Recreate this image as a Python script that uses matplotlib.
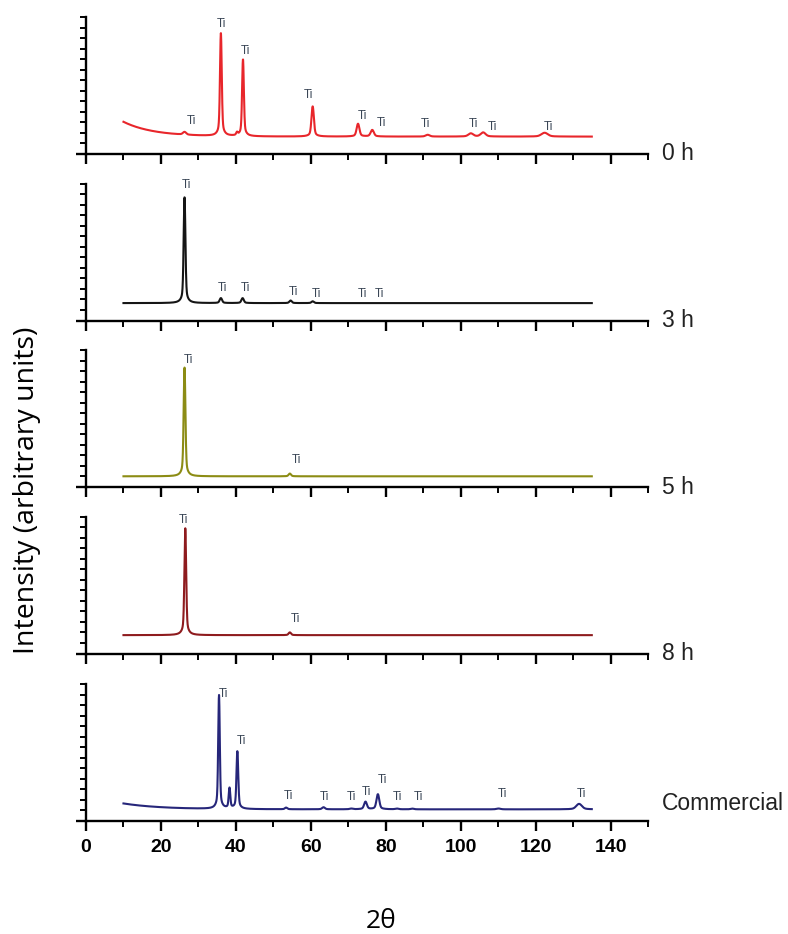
import numpy as np
import matplotlib.pyplot as plt
from matplotlib.ticker import MultipleLocator, FixedLocator

# sample names and line colours
samples = ['0 h', '3 h', '5 h', '8 h', 'Commercial']
colors = ['#e8262b', '#151515', '#8c8c14', '#8e1b1e', '#26267a']

# flat background level and the decaying part at low angle (axes fraction)
base = [0.127, 0.127, 0.078, 0.134, 0.085]
bg_amp = [0.108, 0.0, 0.0, 0.0, 0.043]
bg_tau = [8.0, 1.0, 1.0, 1.0, 10.0]

# peak positions (2theta), heights above background, widths
peak_pos = [
    [26.3, 36.0, 40.3, 41.9, 60.5, 72.6, 76.4, 91.2, 102.7, 106.0, 122.4],
    [26.3, 36.0, 41.8, 54.6, 60.5],
    [26.3, 54.4],
    [26.5, 54.4],
    [35.5, 38.3, 40.4, 53.4, 63.4, 70.8, 74.6, 77.9, 83.0, 87.1, 110.1, 131.6],
]
peak_h = [
    [0.02, 0.75, 0.02, 0.56, 0.22, 0.093, 0.048, 0.013, 0.023, 0.03, 0.028],
    [0.773, 0.036, 0.036, 0.019, 0.013],
    [0.795, 0.02],
    [0.78, 0.02],
    [0.83, 0.147, 0.42, 0.012, 0.015, 0.005, 0.055, 0.11, 0.005, 0.005, 0.006, 0.04],
]
peak_w = [
    [0.4, 0.22, 0.2, 0.22, 0.3, 0.35, 0.4, 0.5, 0.6, 0.6, 0.8],
    [0.22, 0.3, 0.3, 0.3, 0.3],
    [0.22, 0.3],
    [0.22, 0.3],
    [0.2, 0.2, 0.22, 0.3, 0.35, 0.4, 0.35, 0.35, 0.4, 0.4, 0.5, 0.7],
]

# "Ti" annotation positions (2theta, axes fraction)
ti_x = [
    [28.1, 36.2, 42.6, 59.5, 73.8, 78.9, 90.7, 103.5, 108.6, 123.4],
    [26.8, 36.5, 42.6, 55.4, 61.6, 73.8, 78.4],
    [27.4, 56.1],
    [26.0, 55.9],
    [36.8, 41.4, 54.1, 63.6, 70.8, 74.8, 79.2, 83.0, 88.7, 111.1, 132.3],
]
ti_y = [
    [0.24, 0.95, 0.75, 0.43, 0.28, 0.225, 0.22, 0.22, 0.20, 0.20],
    [0.99, 0.24, 0.237, 0.205, 0.19, 0.195, 0.195],
    [0.93, 0.195],
    [0.975, 0.25],
    [0.93, 0.586, 0.18, 0.177, 0.177, 0.213, 0.30, 0.177, 0.177, 0.194, 0.194],
]

x_ticks = [0, 20, 40, 60, 80, 100, 120, 140]

two_theta = np.linspace(10, 135, 4000)

fig = plt.figure(figsize=(7.88, 9.34), dpi=100)
W, H = 788, 934
left, right = 86, 648
axis_y = [154, 320.5, 487, 653.5, 821]
panel_h = 137

for i, name in enumerate(samples):
    ax = fig.add_axes([left / W, 1 - axis_y[i] / H, (right - left) / W, panel_h / H])
    y = base[i] + bg_amp[i] * np.exp(-(two_theta - 10) / bg_tau[i])
    for p, h, w in zip(peak_pos[i], peak_h[i], peak_w[i]):
        g = np.exp(-0.5 * ((two_theta - p) / w) ** 2)
        l = 1 / (1 + ((two_theta - p) / (2.5 * w)) ** 2)
        y = y + h * (0.8 * g + 0.2 * l)
    ax.plot(two_theta, y, color=colors[i], lw=1.5)

    for tx, ty in zip(ti_x[i], ti_y[i]):
        ax.text(tx, ty, 'Ti', fontsize=8.5, color='#3a4656', ha='center', va='center',
                family='Liberation Sans')

    ax.text(1.025, 0.13 if name == 'Commercial' else 0.0, name, transform=ax.transAxes,
            fontsize=16.5, va='center', ha='left', family='Liberation Sans', color='#222222')

    ax.set_xlim(0, 150)
    ax.set_ylim(0, 1)
    for s in ['top', 'right']:
        ax.spines[s].set_visible(False)
    for s in ['left', 'bottom']:
        ax.spines[s].set_linewidth(1.7)
    ax.xaxis.set_major_locator(FixedLocator(x_ticks))
    ax.xaxis.set_minor_locator(MultipleLocator(10))
    ax.yaxis.set_major_locator(FixedLocator([0]))
    ax.yaxis.set_minor_locator(FixedLocator(np.linspace(0, 1, 14)[1:]))
    ax.tick_params(axis='both', which='major', direction='out', length=7.5, width=1.7, pad=5.5)
    ax.tick_params(axis='both', which='minor', direction='out', length=4.5, width=1.4)
    ax.set_yticklabels([])
    if i < len(samples) - 1:
        ax.set_xticklabels([])
    else:
        ax.set_xticklabels([str(t) for t in x_ticks], fontsize=14, fontweight='bold',
                           family='Liberation Sans')

fig.text(27 / W, 1 - 490 / H, 'Intensity (arbitrary units)', rotation=90, fontsize=20.5,
         ha='center', va='center', family='Open Sans')
fig.text(381 / W, 1 - 921 / H, '2θ', fontsize=19, ha='center', va='center', family='Open Sans')

fig.savefig('out.png', dpi=100)
